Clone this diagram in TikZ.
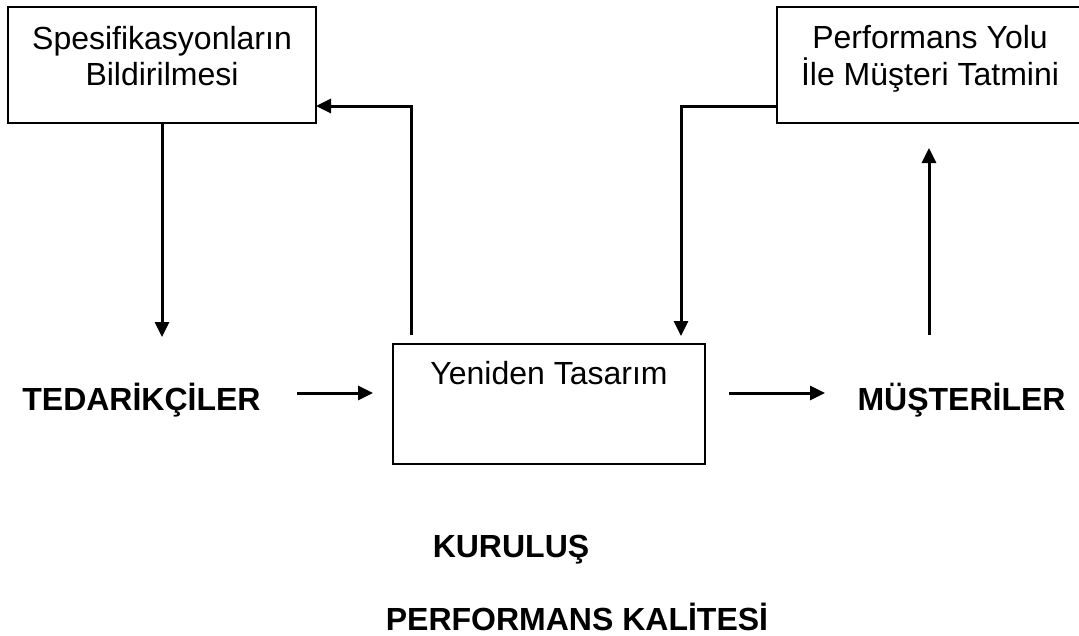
\documentclass[tikz,border=0pt]{standalone}
\usepackage{fontspec}
\setmainfont{Liberation Sans}
\usetikzlibrary{arrows.meta}
\begin{document}
\begin{tikzpicture}[x=1pt,y=-1pt,
  box/.style={draw, line width=2pt, inner sep=0pt, outer sep=0pt},
  txt/.style={font=\fontsize{32}{36}\selectfont, inner sep=0pt, anchor=base},
  btxt/.style={font=\fontsize{32}{36}\selectfont\bfseries, inner sep=0pt, anchor=base},
  arr/.style={line width=3pt, -{Triangle[length=15pt,width=14pt]}}]
\clip (0,0) rectangle (1079,635);
% boxes
\node[box, minimum width=308pt, minimum height=116pt] (spec) at (162,65) {};
\node[box, minimum width=305pt, minimum height=116pt] (perf) at (929.5,65) {};
\node[box, minimum width=312pt, minimum height=120pt] (mid) at (549,404) {};
% box texts
\node[txt] (spec1) at (162,49) {Spesifikasyonların};
\node[txt] (spec2) at (162,85) {Bildirilmesi};
\node[txt] (perf1) at (930,48) {Performans Yolu};
\node[txt] (perf2) at (930,85) {İle Müşteri Tatmini};
\node[txt] (mid1) at (549,384) {Yeniden Tasarım};
% bold labels
\node[btxt] (ted) at (141.5,410) {TEDARİKÇİLER};
\node[btxt] (mus) at (961.5,410) {MÜŞTERİLER};
\node[btxt] (kur) at (511,557) {KURULUŞ};
\node[btxt] (pk) at (577,630) {PERFORMANS KALİTESİ};
% coordinates
\coordinate (t1) at (162,337);
\coordinate (s2) at (411,335);
\coordinate (k2) at (411,106);
\coordinate (k3) at (681,106);
\coordinate (t3) at (681,336);
\coordinate (s4) at (929,335);
\coordinate (t4) at (929,148);
\coordinate (s5) at (297,393);
\coordinate (t5) at (373,393);
\coordinate (s6) at (729,393);
\coordinate (t6) at (825,393);
% connectors
\draw[arr] (spec.south -| t1) -- (t1);
\draw[arr] (s2) -- (k2) -- (k2 -| spec.east);
\draw[arr] (k3 -| perf.west) -- (k3) -- (t3);
\draw[arr] (s4) -- (t4);
\draw[arr] (s5) -- (t5);
\draw[arr] (s6) -- (t6);
\end{tikzpicture}
\end{document}
